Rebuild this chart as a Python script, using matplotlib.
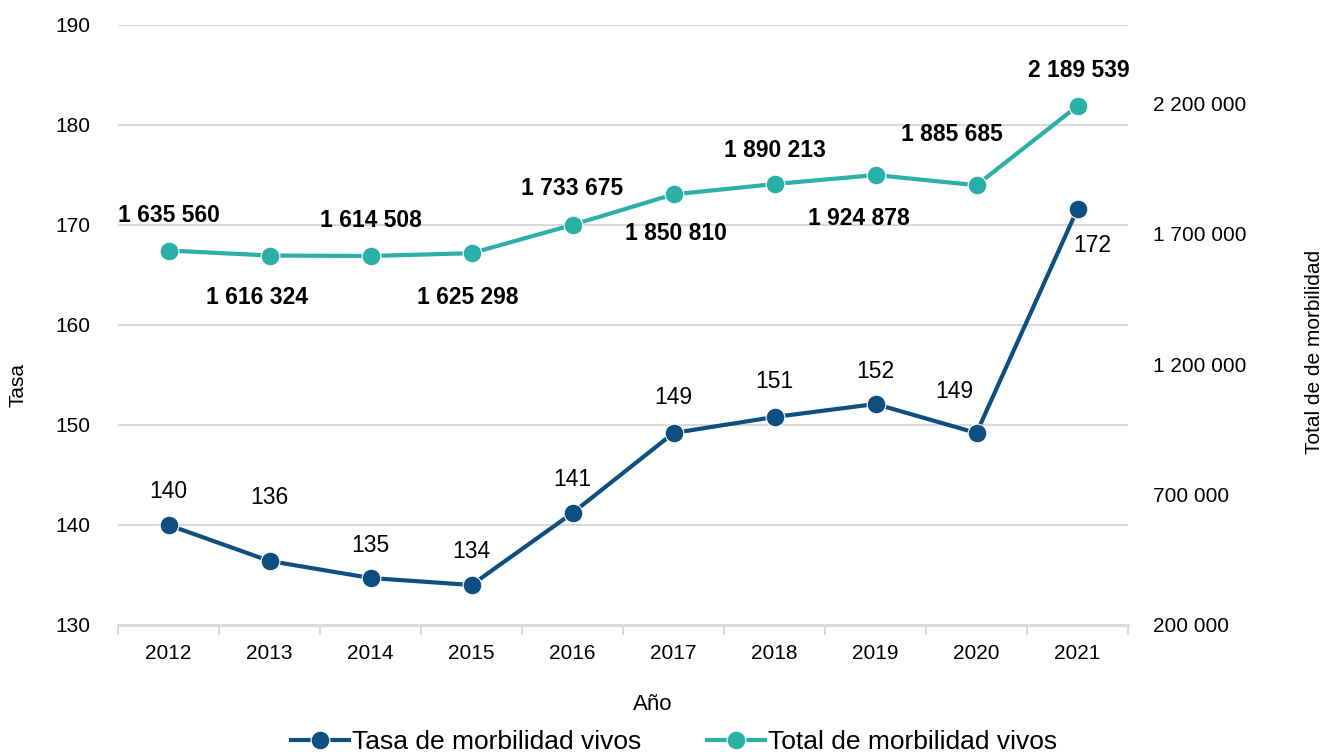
import matplotlib.pyplot as plt
import numpy as np

plt.rcParams['font.family'] = ['Liberation Sans', 'DejaVu Sans']

years = ["2012", "2013", "2014", "2015", "2016", "2017", "2018", "2019", "2020", "2021"]
tasa = [140.0, 136.4, 134.7, 134.0, 141.2, 149.2, 150.8, 152.1, 149.2, 171.6]
tasa_labels = ["140", "136", "135", "134", "141", "149", "151", "152", "149", "172"]
total = [1635560, 1616324, 1614508, 1625298, 1733675, 1850810, 1890213, 1924878, 1885685, 2189539]

navy = "#0E4F80"
teal = "#2BB0A8"
grid_c = "#D9D9D9"

# label offsets in pixels (dx, dy)
tasa_off = [(0, 33), (0, 63), (0, 33), (0, 33), (0, 34), (0, 35), (0, 35), (0, 33), (-22, 42), (15, -37)]
total_off = [(0, 35), (-12, -42), (0, 35), (-4, -44), (0, 36), (2, -39), (0, 34), (-17, -43), (-25, 51), (1, 35)]

def fmt_thousands(v):
    return "{:,}".format(int(v)).replace(",", " ")

fig = plt.figure(figsize=(13.26, 7.52), dpi=100)
ax = fig.add_axes([118/1326, 1-625/752, 1010/1326, 600/752])
ax2 = ax.twinx()

x = np.arange(len(years))

ax.plot(x, tasa, color=navy, lw=3, marker="o", ms=13.5, mec="white", mew=0.8,
        label="Tasa de morbilidad vivos", zorder=3)
ax2.plot(x, total, color=teal, lw=3, marker="o", ms=13.5, mec="white", mew=0.8,
         label="Total de morbilidad vivos", zorder=3)

for i in range(len(years)):
    ax.annotate(tasa_labels[i], (x[i], tasa[i]), xytext=tasa_off[i], textcoords="offset pixels",
                ha="center", va="center", fontsize=16.5, color="black")
    ax2.annotate(fmt_thousands(total[i]), (x[i], total[i]), xytext=total_off[i], textcoords="offset pixels",
                 ha="center", va="center", fontsize=16.5, fontweight="bold", color="black")

ax.set_xlim(-0.5, 9.5)
ax.set_ylim(130, 190)
ax.set_yticks(np.arange(130, 191, 10))
ax2.set_ylim(200000, 2500000)
ax2.set_yticks(np.arange(200000, 2200001, 500000))
ax2.set_yticklabels([fmt_thousands(v) for v in np.arange(200000, 2200001, 500000)])

ax.set_xticks(x)
ax.set_xticklabels(years)
ax.set_xticks(np.arange(-0.5, 10, 1), minor=True)
ax.tick_params(axis="x", which="major", length=0, pad=14, labelsize=15)
ax.tick_params(axis="x", which="minor", length=7, width=1.5, color=grid_c)
ax.tick_params(axis="y", length=0, pad=20, labelsize=15)
ax2.tick_params(axis="y", length=0, pad=18, labelsize=15)

ax.grid(axis="y", color=grid_c, lw=1.5)
ax.set_axisbelow(True)
for a in (ax, ax2):
    for s in ("left", "right", "top"):
        a.spines[s].set_visible(False)
    a.spines["bottom"].set_color(grid_c)
    a.spines["bottom"].set_linewidth(2)

fig.text(18/1326, 1-385/752, "Tasa", rotation=90, ha="center", va="center", fontsize=15)
fig.text(1315/1326, 1-352/752, "Total de de morbilidad", rotation=90, ha="center", va="center", fontsize=15)
fig.text(653/1326, 1-705/752, "Año", ha="center", va="center", fontsize=16)

h1, l1 = ax.get_legend_handles_labels()
h2, l2 = ax2.get_legend_handles_labels()
fig.legend(h1 + h2, l1 + l2, loc="center", bbox_to_anchor=(674/1326, 1-742/752), ncol=2,
           frameon=False, fontsize=19, handlelength=2.2, handletextpad=0.1, columnspacing=2.5,
           borderpad=0)

fig.savefig("out.png", dpi=100)
